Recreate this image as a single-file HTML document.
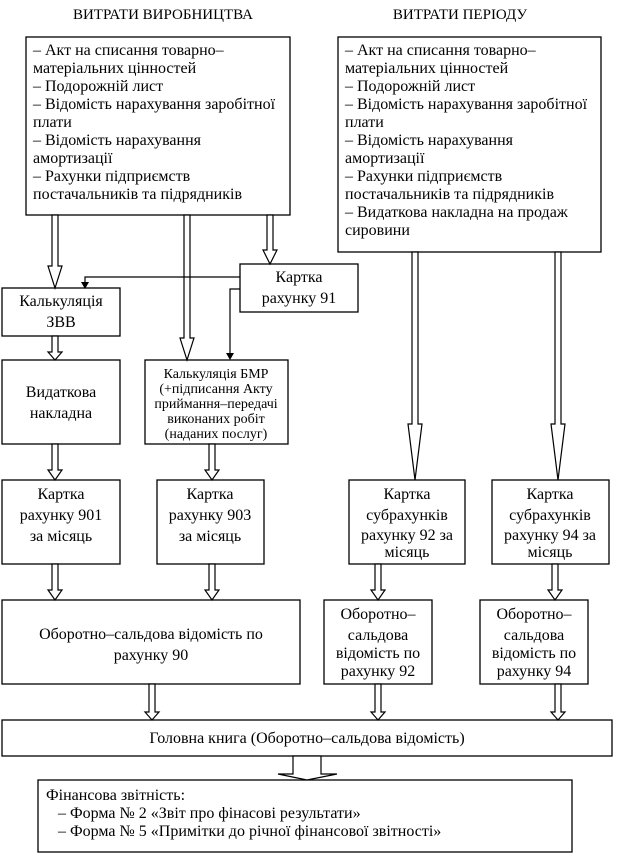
<!DOCTYPE html>
<html><head><meta charset="utf-8"><style>
html,body{margin:0;padding:0;background:#fff}
svg{display:block}
text{font-family:"Liberation Serif",serif;fill:#000}
</style></head><body>
<svg width="637" height="853" viewBox="0 0 637 853" xmlns="http://www.w3.org/2000/svg">
<g fill="#fff" stroke="#000" stroke-width="1.3">
<rect x="26" y="37" width="264" height="178"/>
<rect x="338" y="37" width="263" height="215"/>
<rect x="2" y="288" width="118" height="48"/>
<rect x="240" y="264" width="118" height="48"/>
<rect x="2" y="360" width="118" height="84"/>
<rect x="145" y="360" width="143" height="84"/>
<rect x="2" y="480" width="118" height="84"/>
<rect x="157" y="480" width="107" height="84"/>
<rect x="349" y="480" width="116" height="84"/>
<rect x="492" y="480" width="117" height="84"/>
<rect x="2" y="600" width="298" height="84"/>
<rect x="324" y="600" width="108" height="84"/>
<rect x="480" y="600" width="108" height="84"/>
<rect x="2" y="720" width="610" height="36"/>
<rect x="38" y="780" width="534" height="72"/>
</g>
<g fill="#fff" stroke="#000" stroke-width="1.2">
<polygon points="52,215 52,266 48,266 55,288 62,266 58,266 58,215"/>
<polygon points="184,215 184,338 180,338 187,360 194,338 190,338 190,215"/>
<polygon points="267,215 267,250 263,250 270,264 277,250 273,250 273,215"/>
<polygon points="52,336 52,352 48,352 55,360 62,352 58,352 58,336"/>
<polygon points="52,444 52,470 48,470 55,480 62,470 58,470 58,444"/>
<polygon points="209,444 209,470 205,470 212,480 219,470 215,470 215,444"/>
<polygon points="412,252 412,424 408,424 415,480 422,424 418,424 418,252"/>
<polygon points="555,252 555,424 551,424 558,480 565,424 561,424 561,252"/>
<polygon points="52,564 52,590 48,590 55,600 62,590 58,590 58,564"/>
<polygon points="209,564 209,590 205,590 212,600 219,590 215,590 215,564"/>
<polygon points="375,564 375,590 371,590 378,600 385,590 381,590 381,564"/>
<polygon points="552,564 552,590 548,590 555,600 562,590 558,590 558,564"/>
<polygon points="149,684 149,712 145,712 152,720 159,712 155,712 155,684"/>
<polygon points="375,684 375,712 371,712 378,720 385,712 381,712 381,684"/>
<polygon points="555,684 555,712 551,712 558,720 565,712 561,712 561,684"/>
<polygon points="293,756 293,774 278,774 307,780 337,774 321,774 321,756"/>
</g>
<g fill="none" stroke="#000" stroke-width="1.2">
<polyline points="240,277 85,277 85,284"/>
<polyline points="240,289 230,289 230,354"/>
</g>
<polygon points="81,282 89,282 85,289" fill="#000"/>
<polygon points="226,353 234,353 230,360" fill="#000"/>
<g font-size="15">
<text x="163" y="19" text-anchor="middle">ВИТРАТИ ВИРОБНИЦТВА</text>
<text x="460" y="19" text-anchor="middle">ВИТРАТИ ПЕРІОДУ</text>
</g>
<g font-size="16">
<text x="33" y="55">– Акт на списання товарно–</text>
<text x="33" y="73">матеріальних цінностей</text>
<text x="33" y="91">– Подорожній лист</text>
<text x="33" y="109">– Відомість нарахування заробітної</text>
<text x="33" y="127">плати</text>
<text x="33" y="145">– Відомість нарахування</text>
<text x="33" y="163">амортизації</text>
<text x="33" y="181">– Рахунки підприємств</text>
<text x="33" y="199">постачальників та підрядників</text>
<text x="345" y="55">– Акт на списання товарно–</text>
<text x="345" y="73">матеріальних цінностей</text>
<text x="345" y="91">– Подорожній лист</text>
<text x="345" y="109">– Відомість нарахування заробітної</text>
<text x="345" y="127">плати</text>
<text x="345" y="145">– Відомість нарахування</text>
<text x="345" y="163">амортизації</text>
<text x="345" y="181">– Рахунки підприємств</text>
<text x="345" y="199">постачальників та підрядників</text>
<text x="345" y="217">– Видаткова накладна на продаж</text>
<text x="345" y="235">сировини</text>
<g text-anchor="middle">
<text x="61" y="306">Калькуляція</text>
<text x="61" y="327">ЗВВ</text>
<text x="299" y="282">Картка</text>
<text x="299" y="303">рахунку  91</text>
<text x="61" y="397">Видаткова</text>
<text x="61" y="418">накладна</text>
<text x="61" y="499">Картка</text>
<text x="61" y="520">рахунку 901</text>
<text x="61" y="541">за місяць</text>
<text x="210" y="499">Картка</text>
<text x="210" y="520">рахунку 903</text>
<text x="210" y="541">за місяць</text>
<text x="407" y="499">Картка</text>
<text x="407" y="520">субрахунків</text>
<text x="407" y="540">рахунку 92 за</text>
<text x="407" y="557">місяць</text>
<text x="550" y="499">Картка</text>
<text x="550" y="520">субрахунків</text>
<text x="550" y="540">рахунку 94 за</text>
<text x="550" y="557">місяць</text>
<text x="151" y="639">Оборотно–сальдова відомість по</text>
<text x="151" y="660">рахунку 90</text>
<text x="378" y="619">Оборотно–</text>
<text x="378" y="640">сальдова</text>
<text x="378" y="658">відомість по</text>
<text x="378" y="676">рахунку 92</text>
<text x="534" y="619">Оборотно–</text>
<text x="534" y="640">сальдова</text>
<text x="534" y="658">відомість по</text>
<text x="534" y="676">рахунку 94</text>
<text x="307" y="743">Головна книга (Оборотно–сальдова відомість)</text>
</g>
<text x="46" y="800">Фінансова звітність:</text>
<text x="58" y="818">– Форма № 2 «Звіт про фінасові результати»</text>
<text x="58" y="836">– Форма № 5 «Примітки до річної фінансової звітності»</text>
</g>
<g font-size="14" text-anchor="middle">
<text x="216" y="378">Калькуляція БМР</text>
<text x="216" y="393">(+підписання Акту</text>
<text x="216" y="408">приймання–передачі</text>
<text x="216" y="423">виконаних робіт</text>
<text x="216" y="438">(наданих послуг)</text>
</g>
</svg>
</body></html>
